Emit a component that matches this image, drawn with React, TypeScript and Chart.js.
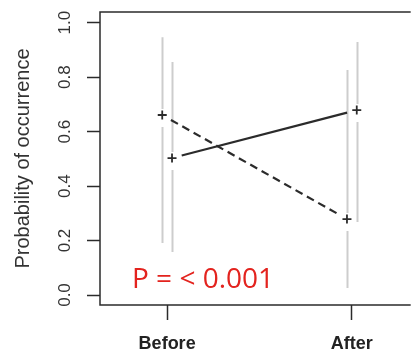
import React, { useEffect, useRef } from "react";
import { Chart, registerables } from "chart.js";

Chart.register(...registerables);

// Occasions on the x axis
const categories = ["Before", "After"];

// Group drawn with a solid line: estimate and interval bounds
const solidMean = [0.503, 0.679];
const solidLower = [0.158, 0.268];
const solidUpper = [0.856, 0.929];

// Group drawn with a dashed line: estimate and interval bounds
const dashedMean = [0.661, 0.279];
const dashedLower = [0.191, 0.026];
const dashedUpper = [0.947, 0.826];

// Y axis ticks
const yTicks = [0, 0.2, 0.4, 0.6, 0.8, 1.0];

const yTitle = "Probability of occurrence";
const pLabel = "P = < 0.001";

const FONT = "'Liberation Sans', Arial, sans-serif";
const INK = "#2b2b2b";
const BAR_GREY = "#cdcdcd";
const DODGE = 0.0265;

type Group = {
  mean: number[];
  lower: number[];
  upper: number[];
  offset: number;
  dash: number[];
};

const groups: Group[] = [
  { mean: dashedMean, lower: dashedLower, upper: dashedUpper, offset: -DODGE, dash: [8, 5] },
  { mean: solidMean, lower: solidLower, upper: solidUpper, offset: DODGE, dash: [] },
];

// Draws the frame, the interval bars with a gap round each estimate,
// the connecting lines (stopping short of the markers) and the P label.
const decorations = {
  id: "decorations",
  beforeDatasetsDraw(chart: any) {
    const { ctx, chartArea, scales } = chart;
    const xs = scales.x;
    const ys = scales.y;
    ctx.save();

    // interval bars
    ctx.strokeStyle = BAR_GREY;
    ctx.lineWidth = 2;
    ctx.setLineDash([]);
    groups.forEach((g) => {
      g.mean.forEach((m, i) => {
        const px = Math.round(xs.getPixelForValue(i + g.offset)) + 0.5;
        const yTop = ys.getPixelForValue(g.upper[i]);
        const yBot = ys.getPixelForValue(g.lower[i]);
        const yMid = ys.getPixelForValue(m);
        ctx.beginPath();
        ctx.moveTo(px, yTop);
        ctx.lineTo(px, yMid - 6);
        ctx.moveTo(px, yMid + 12);
        ctx.lineTo(px, yBot);
        ctx.stroke();
      });
    });

    // connecting lines, shortened at both ends
    ctx.strokeStyle = INK;
    ctx.lineWidth = 2.2;
    groups.forEach((g) => {
      const x0 = xs.getPixelForValue(0 + g.offset);
      const y0 = ys.getPixelForValue(g.mean[0]);
      const x1 = xs.getPixelForValue(1 + g.offset);
      const y1 = ys.getPixelForValue(g.mean[1]);
      const len = Math.hypot(x1 - x0, y1 - y0);
      const ux = (x1 - x0) / len;
      const uy = (y1 - y0) / len;
      const cut = 10;
      ctx.setLineDash(g.dash);
      ctx.beginPath();
      ctx.moveTo(x0 + ux * cut, y0 + uy * cut);
      ctx.lineTo(x1 - ux * cut, y1 - uy * cut);
      ctx.stroke();
    });
    ctx.setLineDash([]);

    // frame: left, top and bottom edges
    ctx.strokeStyle = INK;
    ctx.lineWidth = 1.5;
    ctx.beginPath();
    ctx.moveTo(chartArea.right + 2, chartArea.top);
    ctx.lineTo(chartArea.left, chartArea.top);
    ctx.lineTo(chartArea.left, chartArea.bottom);
    ctx.lineTo(chartArea.right + 2, chartArea.bottom);
    ctx.stroke();

    // P label
    ctx.fillStyle = "#e3231e";
    ctx.font = "28px 'Open Sans', 'Noto Sans', sans-serif";
    ctx.textAlign = "left";
    ctx.textBaseline = "alphabetic";
    ctx.fillText(pLabel, chartArea.left + 32, chartArea.bottom - 17);
    ctx.restore();
  },
};

export default function App() {
  const canvasRef = useRef<HTMLCanvasElement | null>(null);

  useEffect(() => {
    const canvas = canvasRef.current;
    if (!canvas) return;

    const chart = new Chart(canvas, {
      type: "scatter",
      data: {
        datasets: groups.map((g) => ({
          data: g.mean.map((m, i) => ({ x: i + g.offset, y: m })),
          showLine: false,
          pointStyle: "cross",
          pointRadius: 4.5,
          pointBorderWidth: 1.8,
          pointBorderColor: INK,
          pointBackgroundColor: INK,
        })),
      },
      options: {
        animation: false,
        responsive: false,
        devicePixelRatio: 1,
        layout: { padding: { top: 12, right: 0, bottom: 0, left: 0 } },
        plugins: {
          legend: { display: false },
          tooltip: { enabled: false },
        },
        scales: {
          x: {
            type: "linear",
            min: -0.3634,
            max: 1.3077,
            afterBuildTicks: (s: any) => {
              s.ticks = categories.map((_, i) => ({ value: i }));
            },
            afterFit: (s: any) => {
              s.height = 47;
              s.paddingLeft = 0;
              s.paddingRight = 0;
            },
            border: { display: false },
            grid: {
              drawOnChartArea: false,
              drawTicks: true,
              tickLength: 15,
              tickColor: INK,
              tickWidth: 1.5,
            },
            ticks: {
              autoSkip: false,
              maxRotation: 0,
              padding: 13,
              color: "#222222",
              font: { family: FONT, size: 18, weight: "bold" },
              callback: (v: any) => categories[Math.round(Number(v))] ?? "",
            },
          },
          y: {
            type: "linear",
            min: -0.0367,
            max: 1.0393,
            afterBuildTicks: (s: any) => {
              s.ticks = yTicks.map((v) => ({ value: v }));
            },
            afterFit: (s: any) => {
              s.width = 100;
              s.paddingTop = 0;
              s.paddingBottom = 0;
            },
            border: { display: false },
            grid: {
              drawOnChartArea: false,
              drawTicks: true,
              tickLength: 13,
              tickColor: INK,
              tickWidth: 1.5,
            },
            ticks: {
              minRotation: 90,
              maxRotation: 90,
              crossAlign: "center",
              padding: 10,
              color: "#333333",
              font: { family: FONT, size: 17 },
              callback: (v: any) => Number(v).toFixed(1),
            },
            title: {
              display: true,
              text: yTitle,
              color: "#333333",
              font: { family: FONT, size: 20 },
              padding: { top: 11, bottom: 0 },
            },
          },
        },
      },
      plugins: [decorations],
    } as any);

    return () => chart.destroy();
  }, []);

  return (
    <div style={{ position: "absolute", left: 0, top: 0, width: 415, height: 352, background: "#fff" }}>
      <canvas ref={canvasRef} width={415} height={352} style={{ display: "block" }} />
    </div>
  );
}
